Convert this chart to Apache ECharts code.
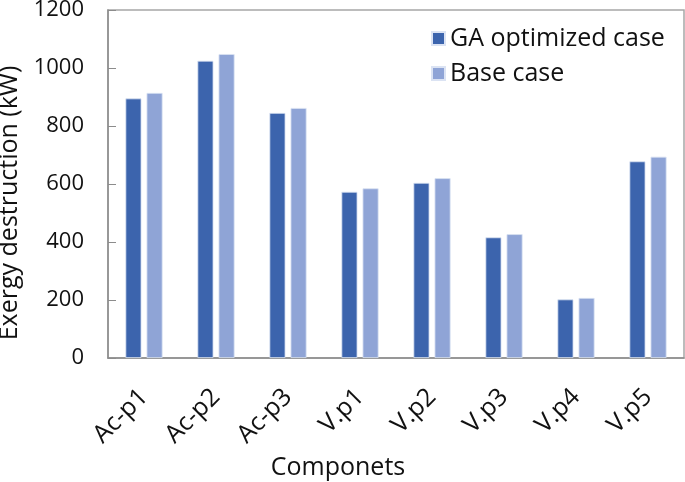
<!DOCTYPE html>
<html><head><meta charset="utf-8">
<script src="https://cdn.jsdelivr.net/npm/echarts@6/dist/echarts.min.js"></script>
<style>html,body{margin:0;padding:0;background:#fff}#c{width:685px;height:482px}</style>
</head><body><div id="c"></div>
<script>
const categories = ['Ac-p1','Ac-p2','Ac-p3','V.p1','V.p2','V.p3','V.p4','V.p5'];
const gaOptimized = [895, 1025, 845, 573, 604, 416, 202, 678];
const baseCase = [914, 1048, 862, 585, 620, 427, 207, 694];
const yTicks = [0, 200, 400, 600, 800, 1000, 1200];

const font = '"Open Sans", "Noto Sans", sans-serif';
const chart = echarts.init(document.getElementById('c'));
chart.setOption({
  animation: false,
  grid: {left: 108, top: 10, right: 1, bottom: 124, show: true, borderColor: '#a6a6a6', borderWidth: 1.5,
         outerBoundsMode: 'none', containLabel: false},
  legend: {
    orient: 'vertical', left: 426, top: 21, itemWidth: 13, itemHeight: 13, itemGap: 10,
    icon: 'rect',
    textStyle: {fontFamily: font, fontSize: 25, color: '#111'},
    data: ['GA optimized case', 'Base case']
  },
  xAxis: {
    type: 'category', data: categories,
    axisLine: {lineStyle: {color: '#8c8c8c', width: 1.5}},
    axisTick: {show: false},
    axisLabel: {rotate: 45, fontFamily: font, fontSize: 25, color: '#111', margin: 35, interval: 0},
    name: 'Componets', nameLocation: 'middle', nameGap: 96,
    nameTextStyle: {fontFamily: font, fontSize: 25, color: '#111', padding: [0, 116, 0, 0]}
  },
  yAxis: {
    type: 'value', min: yTicks[0], max: yTicks[yTicks.length - 1], interval: 200,
    splitLine: {show: false},
    axisLine: {show: true, lineStyle: {color: '#8c8c8c', width: 1.5}},
    axisTick: {show: true, inside: true, length: 8, lineStyle: {color: '#8c8c8c'}},
    axisLabel: {fontFamily: font, fontSize: 22, color: '#111', margin: 24, formatter: v => String(v)},
    name: 'Exergy destruction (kW)', nameLocation: 'middle', nameGap: 78, nameRotate: 90,
    nameTextStyle: {fontFamily: font, fontSize: 25, color: '#111', padding: [0, 38, 0, 0]}
  },
  series: [
    {name: 'GA optimized case', type: 'bar', data: gaOptimized, barWidth: 16, barGap: '32%',
     itemStyle: {color: '#3c64ad', borderColor: '#dbe3f3', borderWidth: 0.8}},
    {name: 'Base case', type: 'bar', data: baseCase, barWidth: 16,
     itemStyle: {color: '#8fa4d6', borderColor: '#dbe3f3', borderWidth: 0.8}}
  ]
});
</script></body></html>
